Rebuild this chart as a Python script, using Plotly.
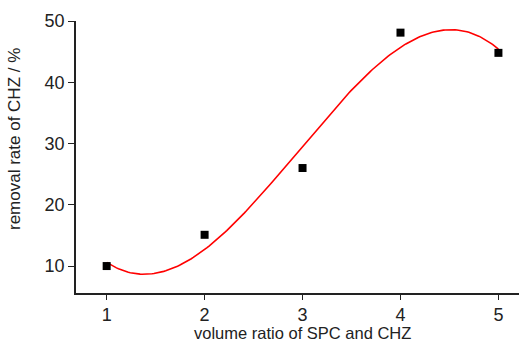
import numpy as np
import plotly.graph_objects as go

ratio = [1, 2, 3, 4, 5]
removal = [10.0, 15.1, 26.0, 48.1, 44.8]
x_ticks = [1, 2, 3, 4, 5]
y_ticks = [10, 20, 30, 40, 50]

coef = np.polyfit(ratio, removal, 3)
xf = np.linspace(1, 5, 200)
yf = np.polyval(coef, xf)

fig = go.Figure()
fig.add_trace(go.Scatter(x=xf, y=yf, mode="lines",
                         line=dict(color="#ff0000", width=1.6), hoverinfo="skip"))
fig.add_trace(go.Scatter(x=ratio, y=removal, mode="markers",
                         marker=dict(symbol="square", size=8, color="black")))

fam = "Liberation Sans, Arial, sans-serif"
tfont = dict(family=fam, size=18, color="#222222")
lfont = dict(family=fam, size=17, color="#222222")
xfont = dict(family=fam, size=16.5, color="#222222")
fig.update_layout(
    width=519, height=343, showlegend=False,
    margin=dict(l=76, r=0, t=21, b=50),
    plot_bgcolor="white", paper_bgcolor="white",
    font=lfont,
    xaxis=dict(range=[0.687, 5.21], tickvals=x_ticks, showgrid=False, zeroline=False,
               showline=True, linecolor="#222222", linewidth=1.5,
               ticks="outside", ticklen=5, tickcolor="#222222", tickwidth=1.2,
               tickfont=tfont),
    yaxis=dict(range=[5.6, 50], tickvals=y_ticks, showgrid=False, zeroline=False,
               showline=True, linecolor="#222222", linewidth=1.5,
               ticks="outside", ticklen=6, tickcolor="#222222", tickwidth=1.2,
               tickfont=tfont),
    annotations=[
        dict(text="volume ratio of SPC and CHZ", xref="x", yref="paper",
             x=3, y=0, yshift=-40, xanchor="center", yanchor="middle",
             showarrow=False, font=xfont),
        dict(text="removal rate of CHZ / %", xref="paper", yref="paper",
             x=-0.14, y=0.566, xanchor="center", yanchor="middle", textangle=-90,
             showarrow=False, font=lfont),
    ],
)
fig.write_html("out.html")
